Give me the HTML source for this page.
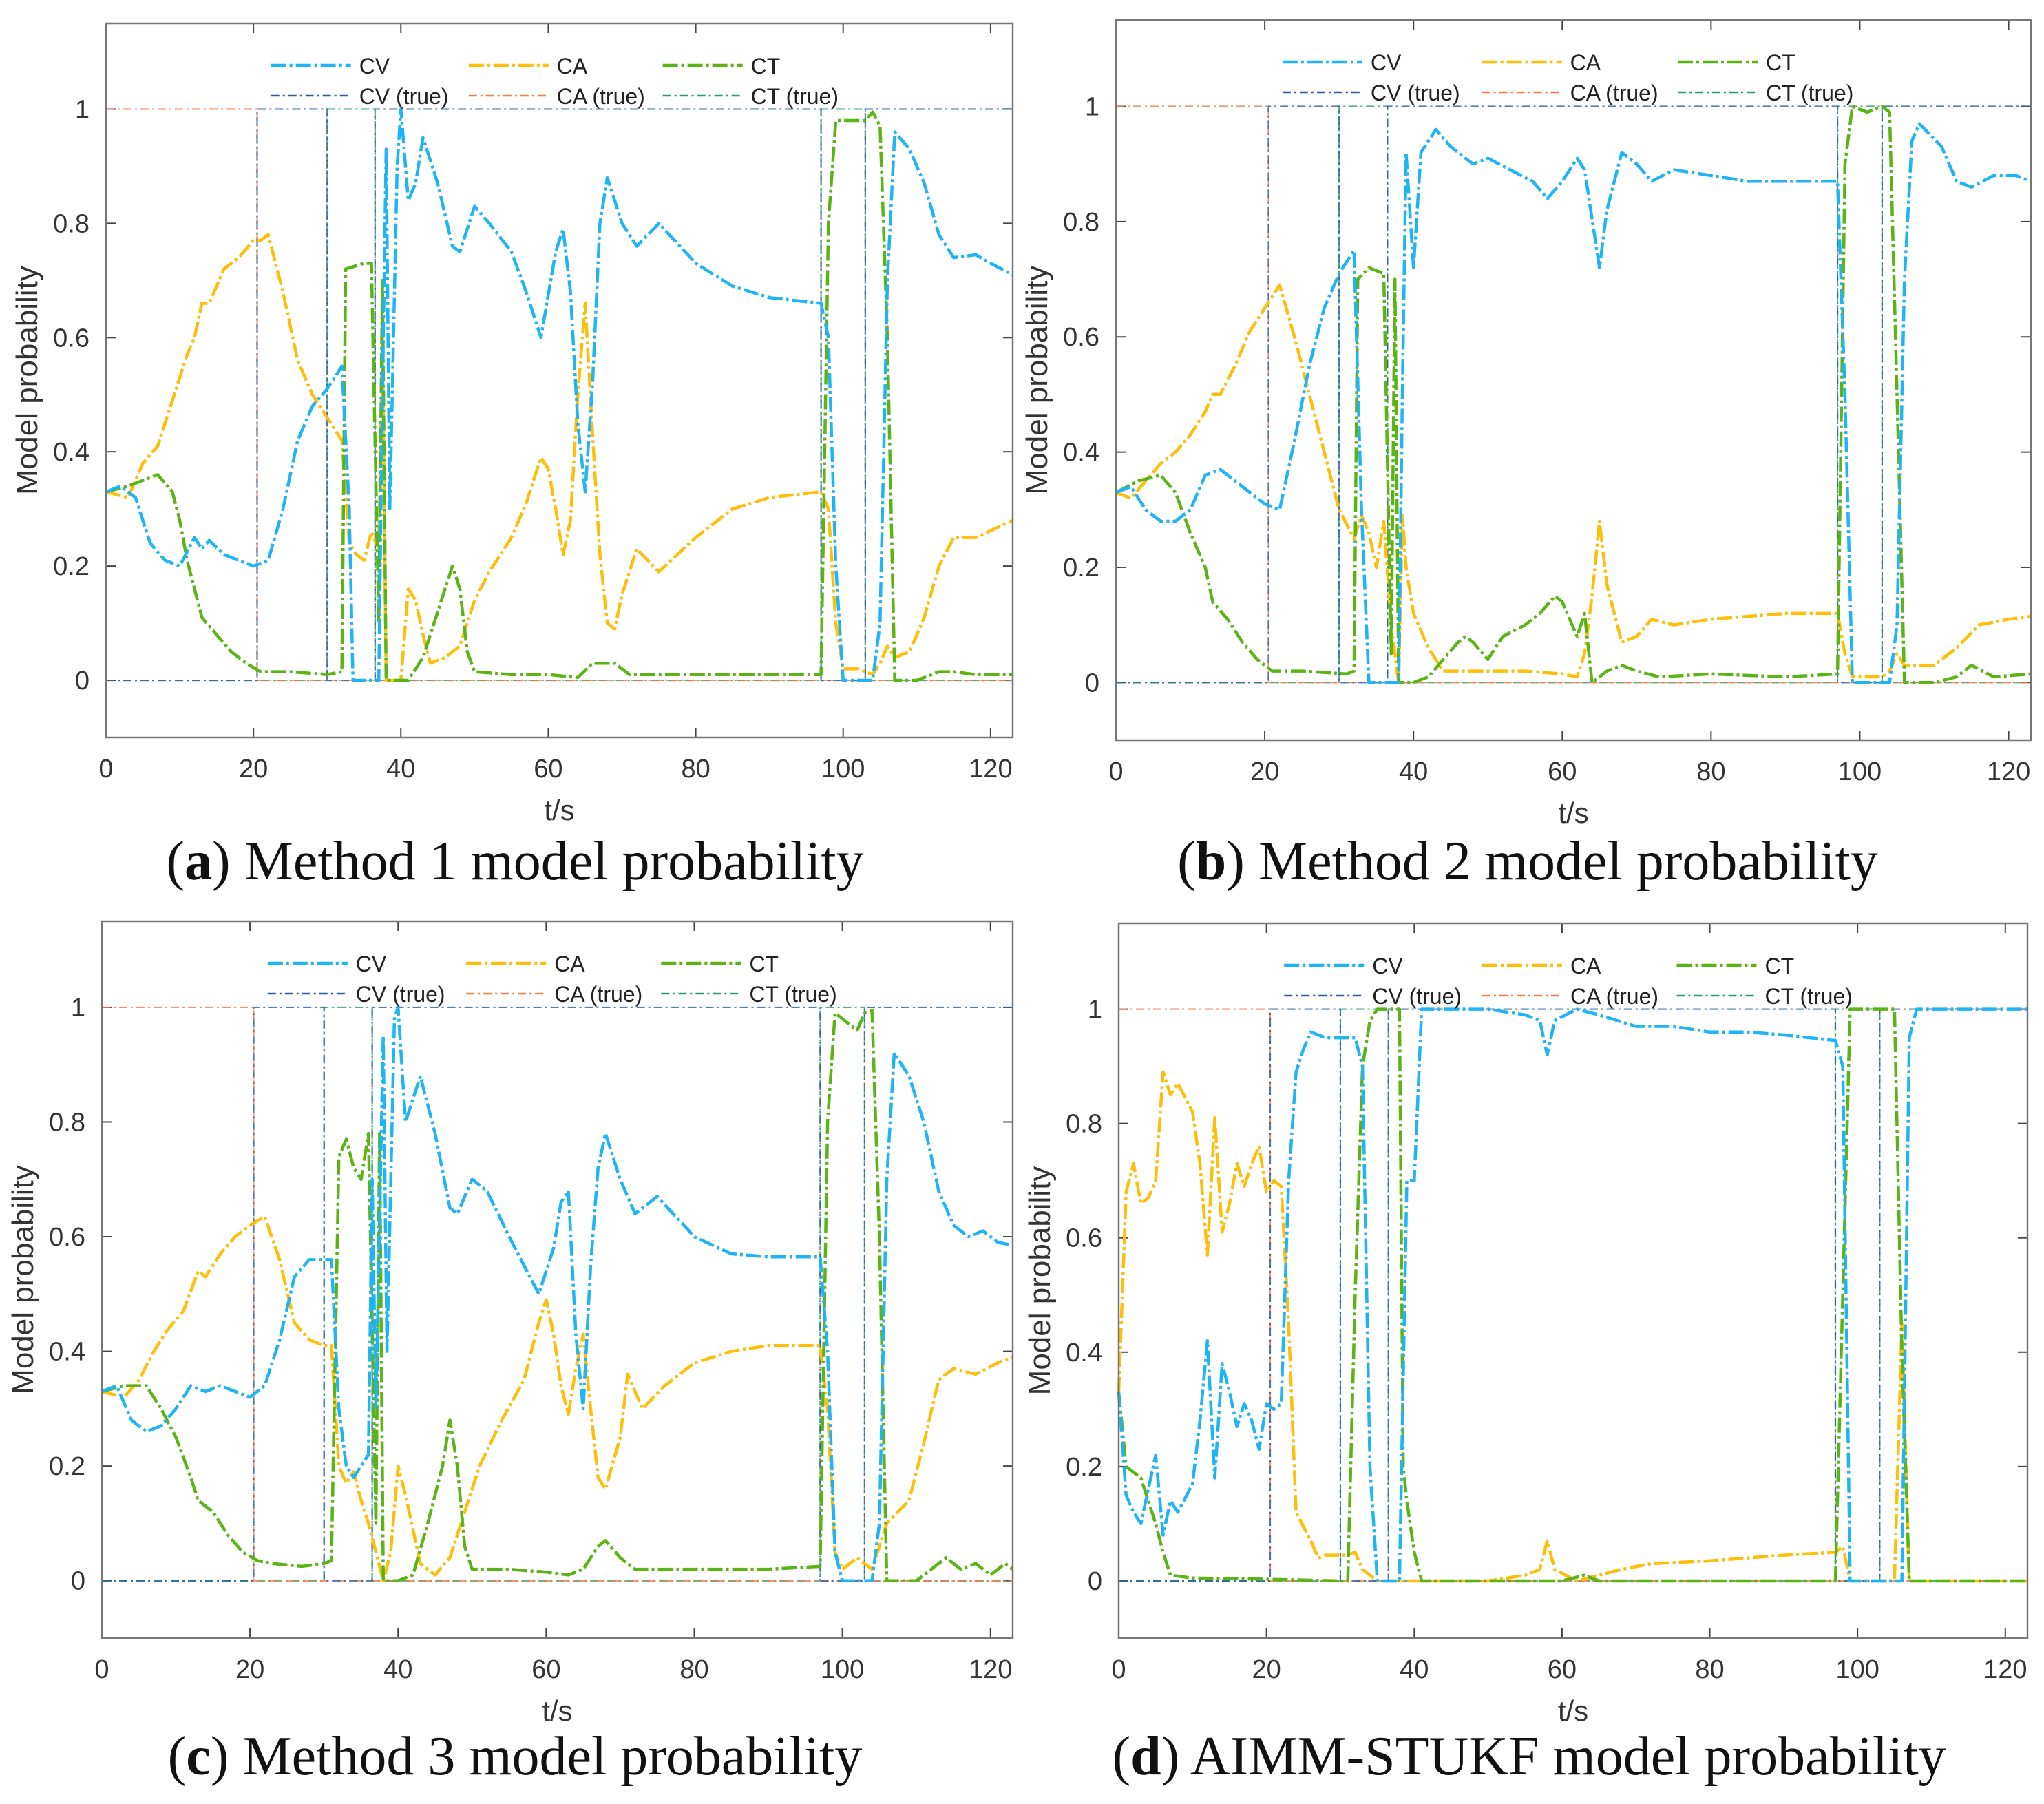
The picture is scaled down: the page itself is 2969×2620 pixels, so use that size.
<!DOCTYPE html>
<html><head><meta charset="utf-8">
<style>
html,body{margin:0;padding:0;background:#fff;}
body{width:2969px;height:2620px;position:relative;overflow:hidden;font-family:"Liberation Sans",sans-serif;}
svg{position:absolute;left:0;top:0;}
.cap{position:absolute;font-family:"Liberation Serif",serif;font-size:80px;color:#111;white-space:nowrap;transform:translateX(-50%);}
</style></head>
<body>
<svg id="fig" width="2969" height="2620"></svg>
<div class="cap" style="left:748px;top:1206px;">(<b>a</b>) Method 1 model probability</div>
<div class="cap" style="left:2219px;top:1206px;">(<b>b</b>) Method 2 model probability</div>
<div class="cap" style="left:748px;top:2506px;">(<b>c</b>) Method 3 model probability</div>
<div class="cap" style="left:2221px;top:2506px;">(<b>d</b>) AIMM-STUKF model probability</div>
<script>
// ---- data (t, value) ----
const xTicks=[0,20,40,60,80,100,120];
const yTicks=[0,0.2,0.4,0.6,0.8,1];
const yTickLabels=["0","0.2","0.4","0.6","0.8","1"];
const seriesNames=["CV","CA","CT"];
const trueNames=["CV (true)","CA (true)","CT (true)"];
// true mode switching: time breakpoints and states
const trueT=[0,20.5,30,36.5,97,103,123];
const trueCV=[0,1,0,1,0,1];
const trueCA=[1,0,0,0,0,0];
const trueCT=[0,0,1,0,1,0];

const aCV=[[0,0.33],[2,0.34],[4,0.32],[6,0.24],[8,0.21],[10,0.2],[12,0.25],[13,0.23],[14,0.245],[16,0.22],[18,0.21],[20,0.2],[22,0.21],[24,0.3],[26,0.42],[28,0.48],[30,0.51],[32,0.55],[33,0.3],[33.5,0],[37,0],[37.5,0.5],[38,0.93],[38.5,0.3],[39.5,0.9],[40,1.0],[41,0.84],[42,0.87],[43,0.95],[45,0.87],[47,0.76],[48,0.75],[50,0.83],[52,0.8],[55,0.75],[57,0.68],[59,0.6],[61,0.75],[62,0.79],[63,0.68],[64,0.45],[65,0.33],[66,0.52],[67,0.8],[68,0.88],[70,0.8],[72,0.76],[75,0.8],[80,0.73],[85,0.69],[90,0.67],[97,0.66],[98,0.6],[99,0.2],[100,0],[104,0],[105,0.1],[106,0.7],[107,0.96],[109,0.93],[111,0.87],[113,0.78],[115,0.74],[118,0.745],[120,0.73],[123,0.71]];
const aCA=[[0,0.33],[3,0.32],[5,0.38],[7,0.41],[9,0.49],[11,0.57],[12,0.6],[13,0.66],[14,0.66],[16,0.72],[18,0.74],[20,0.77],[21,0.77],[22,0.78],[24,0.68],[26,0.56],[28,0.5],[30,0.46],[32,0.42],[33,0.24],[34,0.22],[35,0.21],[36,0.26],[37,0.23],[37.5,0.6],[38,0],[40,0],[41,0.16],[42,0.14],[43,0.08],[44,0.03],[46,0.04],[48,0.06],[50,0.14],[52,0.19],[55,0.25],[57,0.31],[59,0.39],[60,0.37],[61,0.3],[62,0.22],[63,0.28],[64,0.5],[65,0.66],[66,0.43],[67,0.22],[68,0.1],[69,0.09],[70,0.15],[72,0.23],[75,0.19],[80,0.25],[85,0.3],[90,0.32],[97,0.33],[98,0.3],[99,0.1],[100,0.02],[102,0.02],[104,0.01],[105,0.03],[106,0.06],[107,0.04],[109,0.05],[111,0.11],[113,0.2],[115,0.25],[118,0.25],[123,0.28]];
const aCT=[[0,0.33],[3,0.34],[5,0.35],[7,0.36],[9,0.33],[10,0.28],[11,0.21],[13,0.11],[15,0.08],[17,0.05],[19,0.03],[21,0.015],[25,0.015],[30,0.01],[32,0.015],[32.5,0.72],[35,0.73],[36,0.73],[37,0.1],[37.5,0.7],[38,0],[41,0],[43,0.04],[45,0.12],[47,0.2],[48,0.16],[49,0.05],[50,0.015],[55,0.01],[60,0.01],[64,0.005],[66,0.03],[69,0.03],[71,0.01],[80,0.01],[90,0.01],[97,0.01],[98,0.8],[99,0.98],[101,0.98],[103,0.98],[104,0.995],[105,0.97],[106,0.6],[107,0],[110,0],[113,0.015],[115,0.015],[118,0.01],[123,0.01]];

const bCV=[[0,0.33],[2,0.34],[4,0.3],[6,0.28],[8,0.28],[10,0.3],[12,0.36],[14,0.37],[16,0.35],[18,0.33],[20,0.31],[22,0.3],[24,0.42],[26,0.55],[28,0.65],[30,0.71],[32,0.75],[33,0.3],[34,0],[38,0],[38.5,0.5],[39,0.92],[40,0.72],[41,0.92],[42,0.94],[43,0.96],[45,0.93],[48,0.9],[50,0.91],[53,0.89],[56,0.87],[58,0.84],[60,0.87],[62,0.91],[63,0.89],[65,0.72],[66,0.82],[68,0.92],[70,0.9],[72,0.87],[75,0.89],[80,0.88],[85,0.87],[90,0.87],[97,0.87],[98,0.5],[99,0],[104,0],[105,0.1],[106,0.7],[107,0.94],[108,0.97],[111,0.93],[113,0.87],[115,0.86],[118,0.88],[121,0.88],[123,0.87]];
const bCA=[[0,0.33],[2,0.32],[4,0.35],[6,0.38],[8,0.4],[10,0.43],[12,0.47],[13,0.5],[14,0.5],[16,0.55],[18,0.61],[20,0.65],[21,0.67],[22,0.69],[24,0.6],[26,0.5],[28,0.4],[30,0.3],[32,0.25],[33,0.29],[34,0.26],[35,0.2],[36,0.28],[37,0.1],[38,0],[38.5,0.29],[39,0.2],[40,0.12],[42,0.06],[44,0.02],[48,0.02],[55,0.02],[60,0.015],[62,0.01],[63,0.05],[64,0.15],[65,0.28],[66,0.17],[68,0.07],[70,0.08],[72,0.11],[75,0.1],[80,0.11],[85,0.115],[90,0.12],[97,0.12],[98,0.05],[99,0.01],[103,0.01],[104,0.02],[105,0.05],[106,0.03],[110,0.03],[113,0.06],[116,0.1],[120,0.11],[123,0.115]];
const bCT=[[0,0.33],[3,0.35],[6,0.36],[8,0.33],[10,0.26],[12,0.2],[13,0.14],[15,0.11],[17,0.07],[19,0.04],[21,0.02],[25,0.02],[31,0.015],[32,0.02],[32.5,0.7],[34,0.72],[36,0.71],[37,0.05],[37.5,0.7],[38,0],[40,0],[42,0.01],[44,0.04],[46,0.07],[47,0.08],[48,0.07],[50,0.04],[52,0.08],[55,0.1],[57,0.12],[59,0.15],[60,0.14],[61,0.11],[62,0.08],[63,0.12],[64,0],[66,0.02],[68,0.03],[70,0.02],[73,0.01],[80,0.015],[90,0.01],[97,0.015],[98,0.9],[99,1.0],[101,0.99],[103,1.0],[104,0.99],[105,0.5],[106,0],[110,0],[113,0.01],[115,0.03],[118,0.01],[123,0.015]];

const cCV=[[0,0.33],[2,0.34],[4,0.28],[6,0.26],[8,0.27],[10,0.3],[12,0.34],[14,0.33],[16,0.34],[18,0.33],[20,0.32],[22,0.34],[24,0.42],[26,0.53],[28,0.56],[31,0.56],[32,0.3],[33,0.2],[34,0.18],[35,0.2],[36,0.22],[36.5,0.7],[37,0.3],[38,0.95],[38.5,0.4],[39.5,0.98],[40,1.0],[41,0.8],[42,0.84],[43,0.88],[45,0.78],[47,0.65],[48,0.64],[50,0.7],[52,0.68],[55,0.6],[57,0.55],[59,0.5],[61,0.58],[62,0.66],[63,0.68],[64,0.43],[65,0.3],[66,0.55],[67,0.72],[68,0.78],[70,0.7],[72,0.64],[75,0.67],[80,0.6],[85,0.57],[90,0.565],[97,0.565],[98,0.4],[99,0.05],[100,0],[104,0],[105,0.1],[106,0.7],[107,0.92],[109,0.88],[111,0.8],[113,0.68],[115,0.62],[117,0.6],[119,0.61],[121,0.59],[123,0.585]];
const cCA=[[0,0.33],[3,0.32],[5,0.35],[7,0.4],[9,0.44],[11,0.47],[13,0.54],[14,0.53],[16,0.57],[18,0.6],[20,0.62],[22,0.635],[24,0.56],[26,0.45],[28,0.42],[30,0.41],[31,0.41],[32,0.2],[33,0.17],[34,0.19],[35,0.14],[36,0.1],[37,0.05],[38,0],[39,0.05],[40,0.2],[41,0.15],[43,0.03],[45,0.01],[47,0.04],[49,0.12],[51,0.2],[54,0.28],[57,0.35],[59,0.45],[60,0.49],[61,0.43],[62,0.34],[63,0.29],[64,0.37],[65,0.43],[66,0.3],[67,0.18],[68,0.16],[70,0.25],[71,0.36],[73,0.3],[76,0.34],[80,0.38],[85,0.4],[90,0.41],[97,0.41],[98,0.3],[99,0.05],[100,0.02],[102,0.04],[104,0.02],[105,0.06],[106,0.1],[109,0.14],[111,0.24],[113,0.35],[115,0.37],[118,0.36],[121,0.38],[123,0.39]];
const cCT=[[0,0.33],[3,0.34],[6,0.34],[8,0.3],[10,0.25],[12,0.18],[13,0.14],[15,0.12],[17,0.08],[19,0.05],[21,0.035],[23,0.03],[27,0.025],[30,0.03],[31,0.035],[32,0.74],[33,0.77],[34,0.72],[35,0.7],[36,0.78],[37,0.1],[37.5,0.78],[38,0],[40,0],[42,0.01],[44,0.1],[46,0.2],[47,0.28],[48,0.2],[49,0.06],[50,0.02],[55,0.02],[60,0.015],[63,0.01],[65,0.02],[67,0.06],[68,0.07],[70,0.04],[72,0.02],[80,0.02],[90,0.02],[97,0.025],[98,0.8],[99,0.99],[100,0.98],[102,0.96],[103,0.99],[104,0.995],[105,0.6],[106,0],[110,0],[113,0.03],[114,0.04],[116,0.02],[118,0.03],[120,0.01],[122,0.03],[123,0.02]];

const dCV=[[0,0.33],[1,0.15],[2,0.12],[3,0.1],[4,0.16],[5,0.22],[6,0.08],[7,0.14],[8,0.12],[10,0.17],[11,0.28],[12,0.42],[13,0.18],[14,0.38],[15,0.33],[16,0.27],[17,0.31],[18,0.28],[19,0.23],[20,0.31],[21,0.3],[22,0.31],[23,0.7],[24,0.89],[25,0.93],[26,0.96],[28,0.95],[32,0.95],[33,0.9],[34,0.2],[35,0],[38,0],[39,0.7],[40,0.7],[41,1.0],[50,1.0],[55,0.99],[57,0.98],[58,0.92],[59,0.98],[62,1.0],[65,0.99],[70,0.97],[75,0.97],[80,0.96],[85,0.96],[90,0.955],[97,0.945],[98,0.9],[99,0],[106,0],[107,0.95],[108,1.0],[123,1.0]];
const dCA=[[0,0.33],[1,0.68],[2,0.73],[3,0.66],[4,0.67],[5,0.7],[6,0.89],[7,0.85],[8,0.87],[10,0.82],[11,0.73],[12,0.57],[13,0.81],[14,0.61],[15,0.66],[16,0.73],[17,0.69],[18,0.73],[19,0.76],[20,0.68],[21,0.7],[22,0.69],[23,0.45],[24,0.12],[26,0.07],[27,0.04],[28,0.045],[31,0.045],[32,0.05],[33,0.02],[35,0],[40,0],[50,0],[55,0.01],[57,0.02],[58,0.07],[59,0.02],[62,0],[65,0.01],[68,0.02],[72,0.03],[80,0.035],[90,0.045],[97,0.05],[98,0.06],[99,0],[105,0],[106,0.45],[107,0],[123,0]];
const dCT=[[0,0.33],[1,0.2],[2,0.19],[3,0.18],[4,0.14],[5,0.1],[6,0.05],[7,0.01],[10,0.005],[20,0.003],[30,0],[31,0],[32,0.5],[33,0.9],[34,0.98],[35,1.0],[38,1.0],[38.5,0.2],[39,0.14],[40,0.05],[41,0],[60,0],[63,0.01],[65,0],[97,0],[98,0.5],[99,1.0],[105,1.0],[106,0.4],[107,0],[123,0]];

const panels=[
 {id:'a',L:154,R:1471,T:34,B:1071,cv:aCV,ca:aCA,ct:aCT},
 {id:'b',L:1621,R:2950,T:29,B:1075,cv:bCV,ca:bCA,ct:bCT},
 {id:'c',L:148,R:1471,T:1338,B:2379,cv:cCV,ca:cCA,ct:cCT},
 {id:'d',L:1625,R:2945,T:1341,B:2379,cv:dCV,ca:dCA,ct:dCT}
];
const XMIN=0,XMAX=123,YMIN=-0.1,YMAX=1.15;
const colors={CV:'#1eb4f5',CA:'#ffbe0a',CT:'#5ab414'};
const tcolors={CV:'#2a5d9a',CA:'#ee7b4a',CT:'#2a9a6a'};
const NS='http://www.w3.org/2000/svg';
const svg=document.getElementById('fig');
function mk(tag,attrs,parent){const e=document.createElementNS(NS,tag);for(const k in attrs)e.setAttribute(k,attrs[k]);(parent||svg).appendChild(e);return e;}

panels.forEach(p=>{
 const g=mk('g',{});
 
 
 const xs=t=>p.L+(t-XMIN)/(XMAX-XMIN)*(p.R-p.L);
 const ys=v=>p.B-(v-YMIN)/(YMAX-YMIN)*(p.B-p.T);
 const W=p.R-p.L;
 xTicks.forEach(t=>{
  const x=xs(t);
  const l1=mk('line',{x1:x,x2:x,y1:p.B,y2:p.B-14,stroke:'#444','stroke-width':2},g);
  
  
  mk('line',{x1:x,x2:x,y1:p.T,y2:p.T+14,stroke:'#444','stroke-width':2},g);
  const tx=mk('text',{x:x,y:p.B+58,'font-size':38,'text-anchor':'middle',fill:'#333'},g);
  tx.textContent=String(t);
  
  
 });
 yTicks.forEach((v,i)=>{
  const y=ys(v);
  const l1=mk('line',{x1:p.L,x2:p.L+14,y1:y,y2:y,stroke:'#444','stroke-width':2},g);
  
  
  mk('line',{x1:p.R,x2:p.R-14,y1:y,y2:y,stroke:'#444','stroke-width':2},g);
  const tx=mk('text',{x:p.L-24,y:y+13,'font-size':38,'text-anchor':'end',fill:'#333'},g);
  tx.textContent=yTickLabels[i];
  
  
 });
 const xt=mk('text',{x:(p.L+p.R)/2,y:p.B+120,'font-size':42,'text-anchor':'middle',fill:'#333'},g);
 xt.textContent='t/s';
 
 
 const yc=(p.T+p.B)/2, yx=p.L-100;
 const yt=mk('text',{x:yx,y:yc,'font-size':44,'text-anchor':'middle',fill:'#333',transform:'rotate(-90 '+yx+' '+yc+')'},g);
 yt.textContent='Model probability';
 
 
 const trueSets={CV:trueCV,CA:trueCA,CT:trueCT};
 ['CT','CA','CV'].forEach(k=>{
  const st=trueSets[k];let d='';
  for(let i=0;i<st.length;i++){
   const x0=xs(trueT[i]),x1=xs(trueT[i+1]),y=ys(st[i]);
   d+=(i===0?'M':'L')+x0+' '+y+' L'+x1+' '+y+' ';
   if(i+1<st.length) d+='L'+x1+' '+ys(st[i+1])+' ';
  }
  const pa=mk('path',{d:d,fill:'none',stroke:tcolors[k],'stroke-width':2.2,'stroke-dasharray':'12 5 3 5',opacity:0.8},g);
  
  
 });
 [['CA',p.ca],['CT',p.ct],['CV',p.cv]].forEach(([k,arr])=>{
  const d=arr.map((pt,i)=>(i?'L':'M')+xs(pt[0]).toFixed(1)+' '+ys(pt[1]).toFixed(1)).join(' ');
  const pa=mk('path',{d:d,fill:'none',stroke:colors[k],'stroke-width':4.5,'stroke-dasharray':'22 5 4 5','stroke-linejoin':'round'},g);
  
  
 });
 const fr=mk('rect',{x:p.L,y:p.T,width:W,height:p.B-p.T,fill:'none',stroke:'#777','stroke-width':2.5},g);
 
 
 const cols=[0.182,0.4,0.614];
 const lg=mk('g',{},g);
 
 
 seriesNames.forEach((k,i)=>{
  const x0=p.L+cols[i]*W, x1=x0+116;
  [[p.T+61,colors[k],4.5,'22 5 4 5',k],[p.T+105,tcolors[k],2.5,'12 5 3 5',trueNames[i]]].forEach(([y,c,w,da,txt])=>{
   mk('line',{x1:x0,x2:x1,y1:y,y2:y,stroke:c,'stroke-width':w,'stroke-dasharray':da},lg);
   const t=mk('text',{x:x1+12,y:y+12,'font-size':32,fill:'#222'},lg);
   t.textContent=txt;
   
   
  });
 });
});
</script>
</body></html>
